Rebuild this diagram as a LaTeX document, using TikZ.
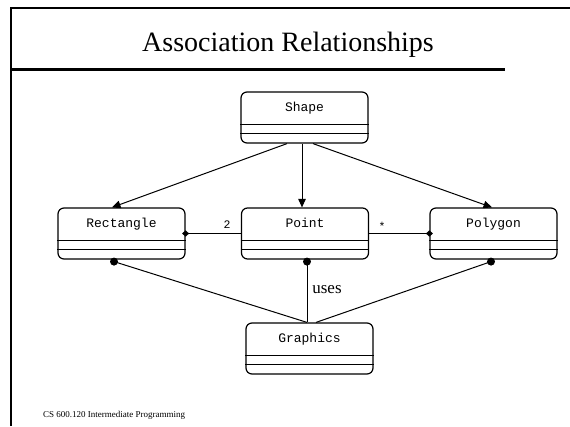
\documentclass[tikz,border=0pt]{standalone}
\usepackage{fontspec}
\setmainfont{Liberation Serif}
\newfontfamily\monofont{Liberation Mono}
\usetikzlibrary{arrows.meta}
\tikzset{
  cls/.style={draw, rounded corners=6pt, line width=1.2pt, minimum width=127pt, minimum height=51pt, inner sep=0pt},
  clsname/.style={font=\monofont\fontsize{13}{15}\selectfont, inner sep=0pt, anchor=base},
  compart/.style={line width=1.1pt},
  conn/.style={line width=1pt},
  gen/.style={conn, -{Triangle[length=8.5pt,width=7.5pt]}},
  agg/.style={conn},
  dot/.style={fill=black},
  mult/.style={font=\monofont\fontsize{11.5}{13}\selectfont, inner sep=0pt, anchor=base},
  frame/.style={line width=1.3pt},
}
\newcommand\umlclass[4]{%
  \node[cls] (#1) at (#2,#3+25.5) {};
  \node[clsname] (#1-t) at (#2,#3+19.5) {#4};
  \draw[compart] ([yshift=-33.5pt]#1.north west) -- ([yshift=-33.5pt]#1.north east);
  \draw[compart] ([yshift=-42pt]#1.north west) -- ([yshift=-42pt]#1.north east);
}
\newcommand\aggdiamond[1]{%
  \fill (#1) ++(-3.5,0) -- ++(3.5,-3.2) -- ++(3.5,3.2) -- ++(-3.5,3.2) -- cycle;
}
\begin{document}
\begin{tikzpicture}[x=1pt,y=-1pt]
\path[use as bounding box, fill=white] (0,0) rectangle (570,426);
% slide frame
\coordinate (fl) at (11,426);
\coordinate (ftl) at (11,8);
\coordinate (ftr) at (570,8);
\draw[frame] (fl) -- (ftl) -- (ftr);
\coordinate (tl1) at (11,69);
\coordinate (tl2) at (505,69);
\draw[line width=3pt] (tl1) -- (tl2);
\node[font=\fontsize{28}{32}\selectfont, inner sep=0pt] (title) at (288,45) {Association Relationships};
\node[font=\fontsize{9}{10}\selectfont, anchor=west, inner sep=0pt] (footer) at (43,415) {CS 600.120 Intermediate Programming};
% classes
\umlclass{shape}{304.5}{92}{Shape}
\umlclass{rect}{121.5}{208}{Rectangle}
\umlclass{point}{305}{208}{Point}
\umlclass{poly}{493.5}{208}{Polygon}
\umlclass{graph}{309.5}{323}{Graphics}
% generalizations
\draw[gen] ([xshift=-17.5pt]shape.south) -- ([xshift=-9.5pt]rect.north);
\draw[gen] ([xshift=-2.5pt]shape.south) -- ([xshift=-3pt]point.north);
\draw[gen] ([xshift=8.5pt]shape.south) -- ([xshift=-1.5pt]poly.north);
% aggregations
\draw[agg] (rect.east) -- (point.west);
\draw[agg] (point.east) -- (poly.west);
\aggdiamond{rect.east}
\aggdiamond{poly.west}
\node[mult] (m2) at (227,228) {2};
\node[mult] (mstar) at (382,230) {*};
% uses
\coordinate (rd) at ([xshift=-7.5pt,yshift=-2pt]rect.south);
\coordinate (pd) at ([xshift=2pt,yshift=-2pt]point.south);
\coordinate (yd) at ([xshift=-2.5pt,yshift=-2pt]poly.south);
\draw[conn] (rd) -- ([xshift=-2.5pt]graph.north);
\draw[conn] (pd) -- ([xshift=-2.5pt]graph.north);
\draw[conn] (yd) -- ([xshift=6.5pt]graph.north);
\fill[dot] (rd) circle (4pt);
\fill[dot] (pd) circle (4pt);
\fill[dot] (yd) circle (4pt);
\node[font=\fontsize{17}{20}\selectfont, inner sep=0pt] (uses) at (327,290) {uses};
\end{tikzpicture}
\end{document}
